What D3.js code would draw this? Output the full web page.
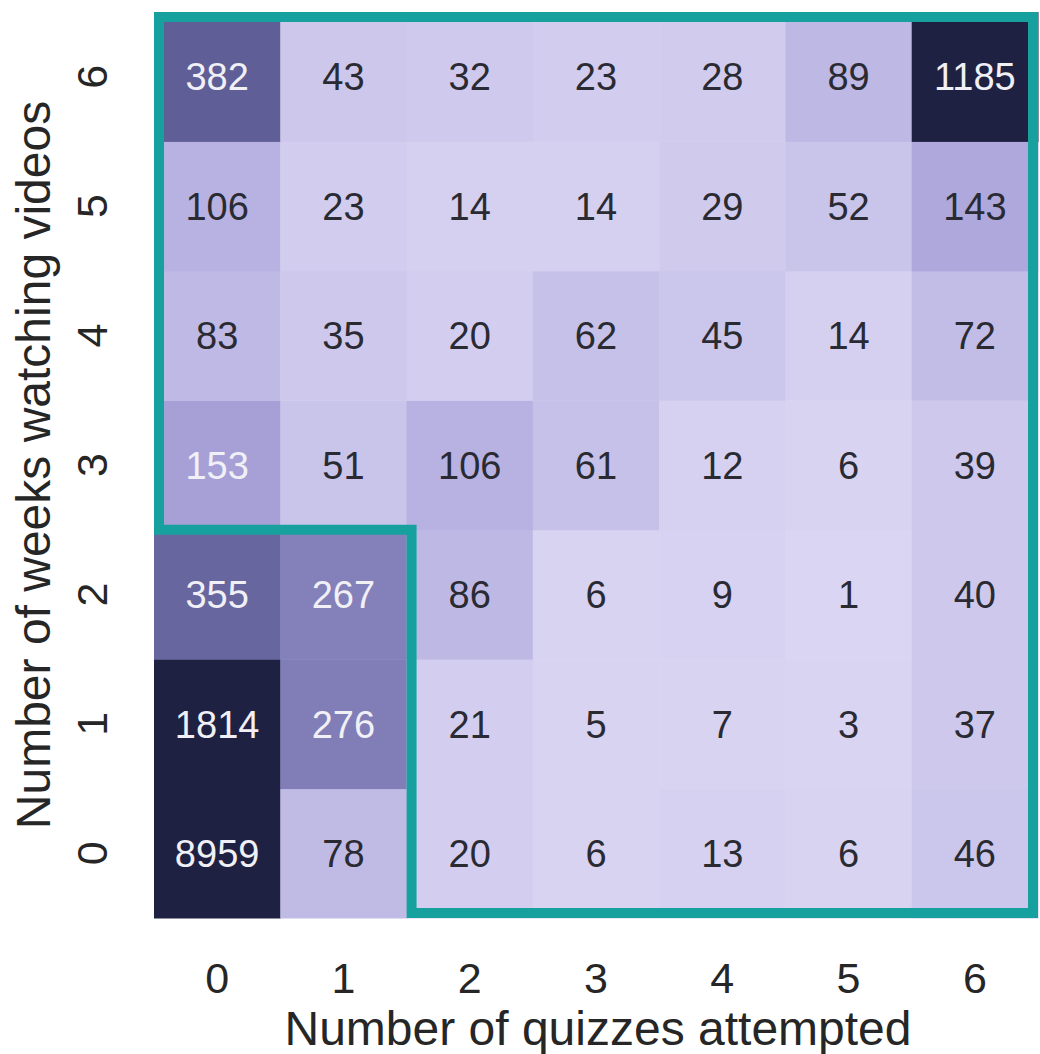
<!DOCTYPE html>
<html>
<head>
<meta charset="utf-8">
<script src="https://cdn.jsdelivr.net/npm/d3@7"></script>
<style>
  html, body { margin: 0; padding: 0; background: #ffffff; }
  svg { display: block; }
  text { font-family: "Liberation Sans", Arial, Helvetica, sans-serif; }
</style>
</head>
<body>
<svg id="chart" width="1040" height="1054"></svg>
<script>
// Number of quizzes attempted (columns) and weeks spent watching videos (rows)
const quizzes = [0, 1, 2, 3, 4, 5, 6];
const weeks = [0, 1, 2, 3, 4, 5, 6];

// Student counts per row, one array per number of weeks watching videos,
// each listed by number of quizzes attempted (0..6)
const week0 = [8959, 78, 20, 6, 13, 6, 46];
const week1 = [1814, 276, 21, 5, 7, 3, 37];
const week2 = [355, 267, 86, 6, 9, 1, 40];
const week3 = [153, 51, 106, 61, 12, 6, 39];
const week4 = [83, 35, 20, 62, 45, 14, 72];
const week5 = [106, 23, 14, 14, 29, 52, 143];
const week6 = [382, 43, 32, 23, 28, 89, 1185];

const xTickLabels = ["0", "1", "2", "3", "4", "5", "6"];
const yTickLabels = ["0", "1", "2", "3", "4", "5", "6"];
const xTitle = "Number of quizzes attempted";
const yTitle = "Number of weeks watching videos";

const rows = [week0, week1, week2, week3, week4, week5, week6];
const cells = [];
weeks.forEach((w, wi) => {
  quizzes.forEach((q, qi) => {
    cells.push({ week: w, quiz: q, value: rows[wi][qi] });
  });
});

// Layout of the heatmap area
const plotLeft = 154, plotRight = 1038, plotTop = 12, plotBottom = 918;
const svg = d3.select("#chart");

const x = d3.scaleBand().domain(quizzes).range([plotLeft, plotRight]).padding(0);
const y = d3.scaleBand().domain(weeks.slice().reverse()).range([plotTop, plotBottom]).padding(0);

// Light lavender to deep navy; values beyond the top stop are clamped
const color = d3.scaleLinear()
  .domain([0, 106, 143, 153, 267, 382, 600])
  .range(["#dad5f2", "#b7b2e1", "#aea8dc", "#a6a0d6", "#8481ba", "#5f5e96", "#1f2142"])
  .interpolate(d3.interpolateRgb)
  .clamp(true);

// Pick light or dark annotation text from the cell's relative luminance
function luminance(c) {
  const rgb = d3.rgb(c);
  const lin = v => {
    v = v / 255;
    return v <= 0.03928 ? v / 12.92 : Math.pow((v + 0.055) / 1.055, 2.4);
  };
  return 0.2126 * lin(rgb.r) + 0.7152 * lin(rgb.g) + 0.0722 * lin(rgb.b);
}

const g = svg.append("g");

g.selectAll("rect.cell")
  .data(cells)
  .join("rect")
  .attr("class", "cell")
  .attr("x", d => x(d.quiz))
  .attr("y", d => y(d.week))
  .attr("width", x.bandwidth() + 0.5)
  .attr("height", y.bandwidth() + 0.5)
  .attr("fill", d => color(d.value));

g.selectAll("text.annot")
  .data(cells)
  .join("text")
  .attr("class", "annot")
  .attr("x", d => x(d.quiz) + x.bandwidth() / 2)
  .attr("y", d => y(d.week) + y.bandwidth() / 2)
  .attr("dy", "0.36em")
  .attr("text-anchor", "middle")
  .attr("font-size", 38)
  .attr("fill", d => luminance(color(d.value)) <= 0.408 ? "#f0f0f6" : "#2a2a33")
  .text(d => d.value);

// Outline around the upper block and the lower-right block
const sw = 10, h = sw / 2;
const xStep = x(2);
const yStep = y(3) + y.bandwidth();
const outline = d3.path();
outline.moveTo(plotLeft + h, plotTop + h);
outline.lineTo(plotRight - h, plotTop + h);
outline.lineTo(plotRight - h, plotBottom - h);
outline.lineTo(xStep + h, plotBottom - h);
outline.lineTo(xStep + h, yStep);
outline.lineTo(plotLeft + h, yStep);
outline.closePath();

g.append("path")
  .attr("d", outline.toString())
  .attr("fill", "none")
  .attr("stroke", "#17a19e")
  .attr("stroke-width", sw)
  .attr("stroke-linejoin", "miter");

// X axis
const xAxis = d3.axisBottom(x).tickSize(0).tickPadding(44)
  .tickFormat((d, i) => xTickLabels[i]);
const xg = svg.append("g").attr("transform", `translate(0,${plotBottom})`).call(xAxis);
xg.select(".domain").remove();
xg.selectAll("text")
  .attr("font-size", 43)
  .attr("font-family", "Liberation Sans, Arial, sans-serif")
  .attr("fill", "#262626");

// Y axis with vertically rotated tick labels
const yAxis = d3.axisLeft(y).tickSize(0).tickFormat(d => yTickLabels[d]);
const yg = svg.append("g").attr("transform", `translate(${plotLeft},0)`).call(yAxis);
yg.select(".domain").remove();
yg.selectAll("text")
  .attr("x", null)
  .attr("dy", null)
  .attr("text-anchor", "middle")
  .attr("transform", "translate(-47,0) rotate(-90)")
  .attr("font-size", 43)
  .attr("font-family", "Liberation Sans, Arial, sans-serif")
  .attr("fill", "#262626");

// Axis titles
svg.append("text")
  .attr("x", (plotLeft + plotRight) / 2 + 2)
  .attr("y", 1045)
  .attr("text-anchor", "middle")
  .attr("font-size", 48)
  .attr("fill", "#262626")
  .text(xTitle);

svg.append("text")
  .attr("transform", `translate(50,${(plotTop + plotBottom) / 2}) rotate(-90)`)
  .attr("text-anchor", "middle")
  .attr("font-size", 48)
  .attr("fill", "#262626")
  .text(yTitle);
</script>
</body>
</html>
